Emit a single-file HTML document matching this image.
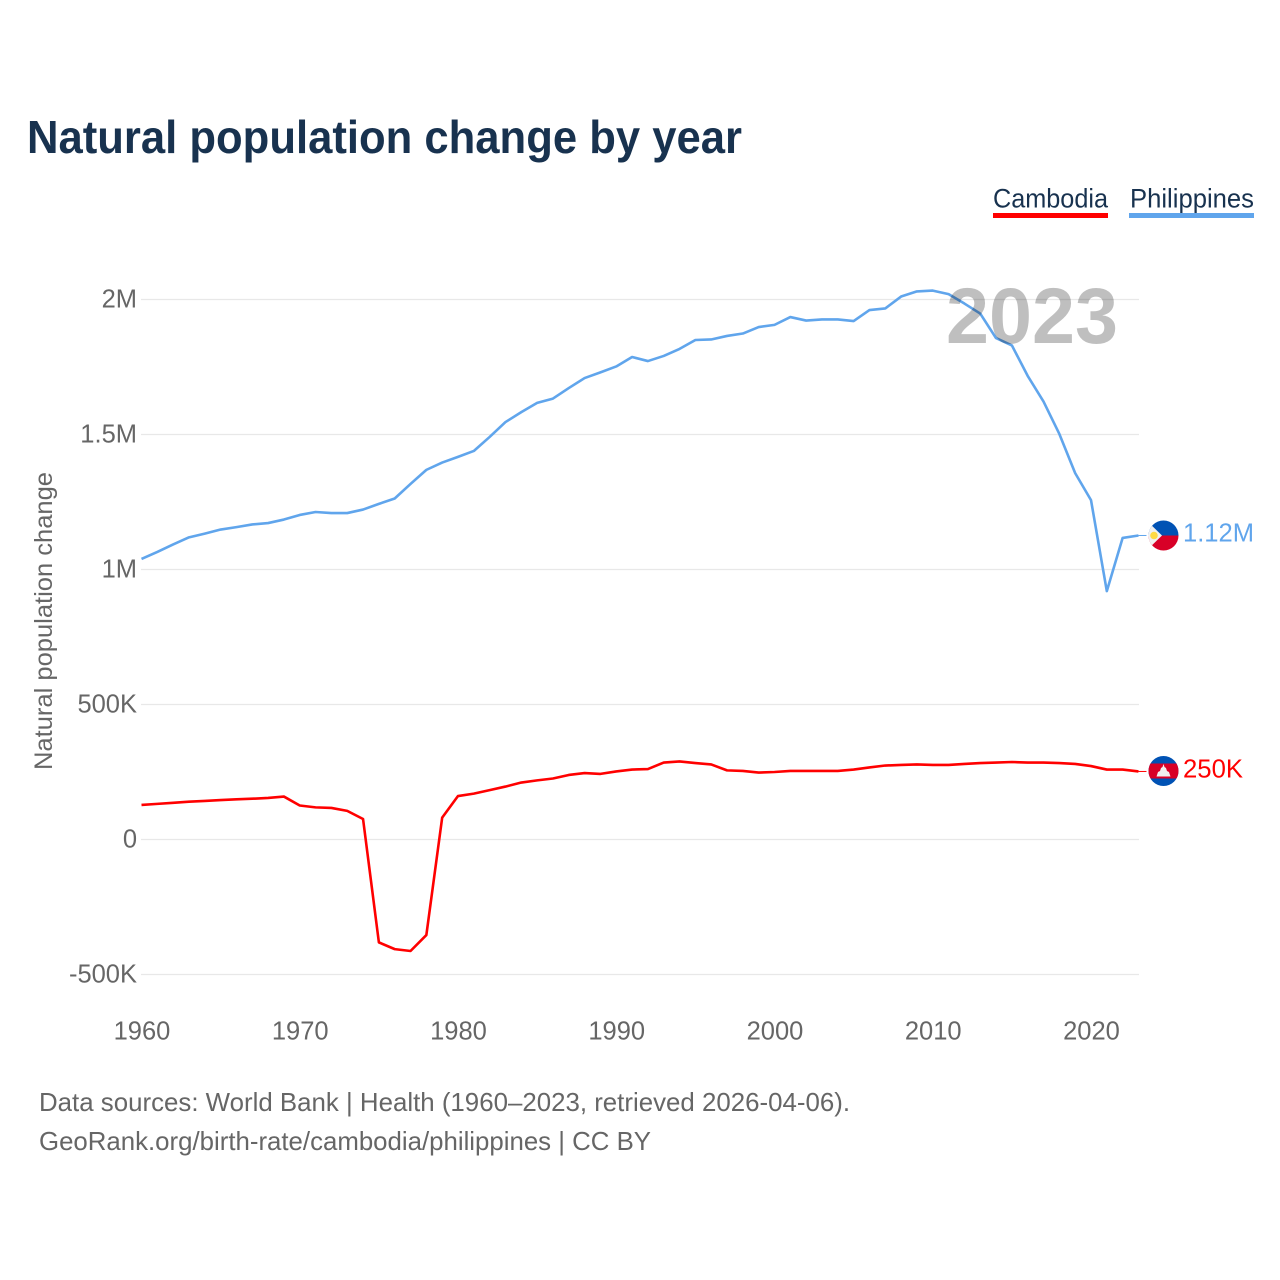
<!DOCTYPE html>
<html lang="en">
<head>
<meta charset="utf-8">
<title>Natural population change by year</title>
<style>
html,body{margin:0;padding:0;background:#fff;}
svg{display:block;}
text{font-family:"Liberation Sans",sans-serif;}
</style>
</head>
<body>
<svg id="chart" xmlns="http://www.w3.org/2000/svg" width="1280" height="1280" viewBox="0 0 1280 1280">
  <rect width="1280" height="1280" fill="#fff"/>
  <text x="27" y="153" font-size="46" font-weight="700" fill="#18324f" textLength="715" lengthAdjust="spacingAndGlyphs">Natural population change by year</text>

  <g>
    <text x="993" y="207.5" font-size="27" fill="#18324f" textLength="115" lengthAdjust="spacingAndGlyphs">Cambodia</text>
    <rect x="993" y="213" width="115" height="5" fill="#ff0000"/>
  </g>
  <g>
    <text x="1130" y="207.5" font-size="27" fill="#18324f" textLength="124" lengthAdjust="spacingAndGlyphs">Philippines</text>
    <rect x="1129" y="213" width="125" height="5" fill="#60a5ec"/>
  </g>

  <text transform="translate(52 621) rotate(-90)" text-anchor="middle" font-size="25" fill="#666" textLength="298" lengthAdjust="spacingAndGlyphs">Natural population change</text>

  <g id="grid"></g>
  <g id="yticks"></g>
  <g id="xticks"></g>
  <g id="lines"></g>

  <text x="1118" y="343" text-anchor="end" font-size="79" font-weight="700" fill="#000" fill-opacity="0.25" textLength="172" lengthAdjust="spacingAndGlyphs">2023</text>

  <g transform="translate(1163.5 535.5)">
    <clipPath id="ph-clip"><circle r="15"/></clipPath>
    <g clip-path="url(#ph-clip)">
      <rect x="-15" y="-15" width="30" height="15" fill="#0052b4"/>
      <rect x="-15" y="0" width="30" height="15" fill="#d80027"/>
      <polygon points="-17,-15 -1.5,0 -17,15" fill="#f0f0f0"/>
      <circle cx="-9.5" cy="0" r="3.8" fill="#ffda44"/>
    </g>
  </g>
  <text x="1183" y="541.5" font-size="26" fill="#60a5ec" textLength="71" lengthAdjust="spacingAndGlyphs">1.12M</text>

  <g transform="translate(1163.5 771)">
    <clipPath id="kh-clip"><circle r="15"/></clipPath>
    <g clip-path="url(#kh-clip)">
      <rect x="-15" y="-15" width="30" height="30" fill="#0052b4"/>
      <rect x="-15" y="-7.5" width="30" height="15" fill="#d80027"/>
      <polygon points="-7,5.5 -5.5,1 -3.5,0 -2.5,-3 -1,-4 0,-7 1,-4 2.5,-3 3.5,0 5.5,1 7,5.5" fill="#f0f0f0"/>
    </g>
  </g>
  <text x="1183" y="777.5" font-size="26" fill="#ff0000" textLength="60" lengthAdjust="spacingAndGlyphs">250K</text>

  <text x="39" y="1111" font-size="26" fill="#666" textLength="811" lengthAdjust="spacingAndGlyphs">Data sources: World Bank | Health (1960–2023, retrieved 2026-04-06).</text>
  <text x="39" y="1150" font-size="26" fill="#666" textLength="612" lengthAdjust="spacingAndGlyphs">GeoRank.org/birth-rate/cambodia/philippines | CC BY</text>
</svg>
<script>
const firstYear = 1960;
const xTickYears = [1960, 1970, 1980, 1990, 2000, 2010, 2020];
const yTickValues = [2000, 1500, 1000, 500, 0, -500];
const yTickLabels = ["2M", "1.5M", "1M", "500K", "0", "-500K"];
const philippinesValues = [1039,1065,1093,1119,1133,1148,1157,1167,1172,1185,1202,1213,1209,1209,1222,1243,1263,1317,1369,1396,1417,1439,1491,1546,1583,1617,1633,1672,1709,1730,1752,1787,1772,1791,1817,1850,1852,1865,1874,1898,1906,1935,1922,1926,1926,1920,1961,1967,2011,2030,2033,2020,1985,1948,1857,1830,1717,1622,1502,1357,1257,920,1117,1126];
const cambodiaValues = [128,132,136,140,143,146,149,151,154,159,126,119,117,106,76,-381,-406,-413,-354,81,161,170,183,196,211,219,226,239,246,243,252,259,261,285,289,283,278,256,254,248,250,254,254,254,254,259,267,274,276,278,276,276,280,283,285,287,285,285,283,280,272,259,259,252];

const NS = 'http://www.w3.org/2000/svg';
function xScale(year) { return 141.5 + (year - 1960) * 15.825; }
function yScale(v) { return 839.5 - v * 0.27; }
function make(tag, attrs, parent, txt) {
  const el = document.createElementNS(NS, tag);
  for (const k in attrs) el.setAttribute(k, attrs[k]);
  if (txt !== undefined) el.textContent = txt;
  parent.appendChild(el);
  return el;
}
const grid = document.getElementById('grid');
const yticks = document.getElementById('yticks');
const xticks = document.getElementById('xticks');
const lines = document.getElementById('lines');

yTickValues.forEach(function (v, i) {
  const l = make('line', {x1: 141, x2: 1139, y1: yScale(v), y2: yScale(v), stroke: '#e8e8e8', 'stroke-width': 1.2}, grid);
  
  
  const t = make('text', {x: 137, y: yScale(v) + 8, 'text-anchor': 'end', 'font-size': 25.5, fill: '#666'}, yticks, yTickLabels[i]);
  
  
});
xTickYears.forEach(function (yr) {
  const t = make('text', {x: xScale(yr) + 0.5, y: 1039.5, 'text-anchor': 'middle', 'font-size': 25.5, fill: '#666'}, xticks, String(yr));
  
  
});
function drawSeries(values, color, name) {
  const pts = values.map(function (v, i) { return xScale(firstYear + i).toFixed(2) + ',' + yScale(v).toFixed(2); });
  const p = make('polyline', {points: pts.join(' '), fill: 'none', stroke: color, 'stroke-width': 2.6, 'stroke-linejoin': 'round'}, lines);
  
  
  const last = values[values.length - 1];
  const lx = xScale(firstYear + values.length - 1);
  const c = make('line', {x1: lx, x2: lx + 8, y1: yScale(last), y2: yScale(last), stroke: color, 'stroke-width': 1}, lines);
  
  
}
drawSeries(philippinesValues, '#60a5ec', 'philippines-line');
drawSeries(cambodiaValues, '#ff0000', 'cambodia-line');
</script>
</body>
</html>
